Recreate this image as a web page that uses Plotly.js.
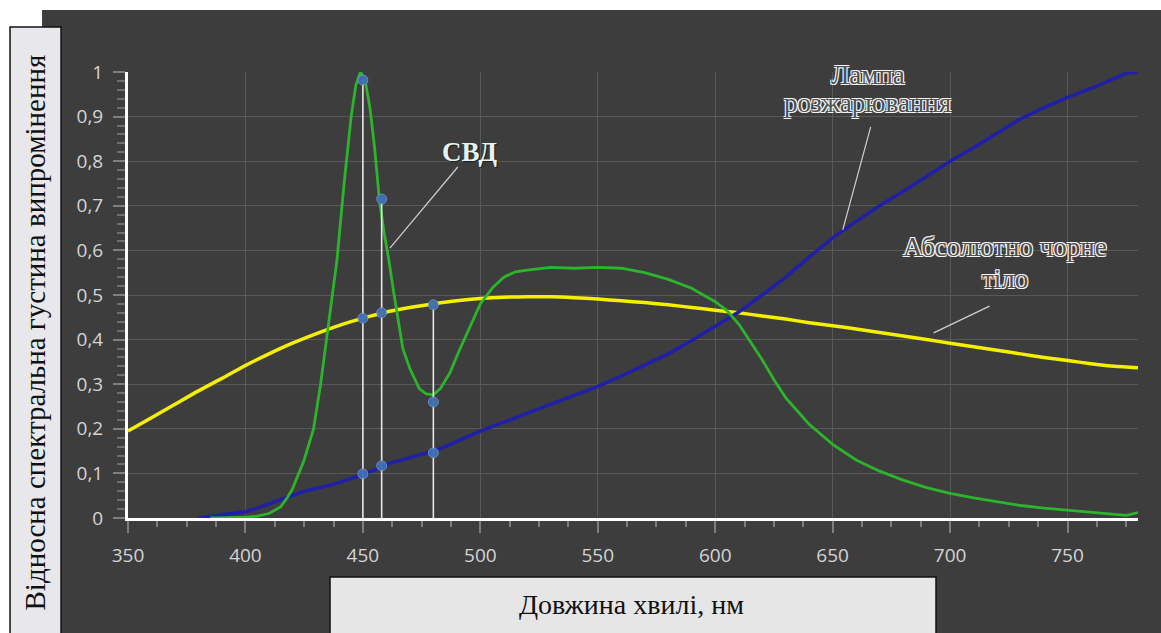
<!DOCTYPE html>
<html>
<head>
<meta charset="utf-8">
<script src="https://cdn.plot.ly/plotly-3.0.1.min.js"></script>
<style>
html,body{margin:0;padding:0;background:#ffffff;}
#chart{width:1161px;height:633px;}
</style>
</head>
<body>
<div id="chart"></div>
<script>
// Black body (yellow)
const bbNm  = [350,360,370,380,390,400,410,420,430,440,450,460,470,480,490,500,510,520,530,540,550,560,570,580,590,600,610,620,630,640,650,660,670,680,690,700,710,720,730,740,750,760,770,780];
const bbVal = [0.195,0.225,0.255,0.285,0.313,0.342,0.368,0.392,0.413,0.432,0.448,0.462,0.472,0.48,0.487,0.492,0.495,0.496,0.496,0.494,0.491,0.487,0.483,0.478,0.472,0.466,0.46,0.453,0.446,0.438,0.431,0.424,0.416,0.408,0.4,0.392,0.384,0.376,0.368,0.36,0.353,0.346,0.34,0.337];

// Incandescent lamp (blue)
const lampNm  = [380,385,390,395,400,405,410,415,420,425,430,435,440,445,450,455,460,465,470,475,480,485,490,495,500,510,520,530,540,550,560,570,580,590,600,610,620,630,640,650,660,670,680,690,700,710,720,730,740,750,760,770,775,780];
const lampVal = [0.0,0.004,0.007,0.01,0.014,0.022,0.032,0.042,0.052,0.06,0.066,0.072,0.08,0.088,0.098,0.108,0.12,0.128,0.135,0.142,0.15,0.16,0.172,0.185,0.195,0.215,0.235,0.255,0.275,0.295,0.318,0.342,0.368,0.398,0.43,0.462,0.5,0.54,0.585,0.628,0.665,0.7,0.732,0.765,0.8,0.83,0.862,0.895,0.92,0.943,0.963,0.985,0.997,1.0];

// LED (green)
const ledNm  = [385,390,400,405,410,415,418,420,425,429,432,435,439,442,445,447,449,451,453,455,457,459,461,463,465,467,470,474,477,480,483,487,491,495,500,505,510,515,520,530,540,550,560,570,580,590,600,605,610,615,620,625,630,635,640,650,660,670,680,690,700,710,720,730,740,750,760,770,775,780];
const ledVal = [0.0,0.0,0.002,0.004,0.01,0.025,0.047,0.065,0.13,0.2,0.3,0.42,0.58,0.75,0.9,0.97,1.0,0.98,0.92,0.83,0.715,0.64,0.58,0.51,0.44,0.38,0.335,0.29,0.278,0.276,0.29,0.325,0.375,0.42,0.48,0.515,0.54,0.552,0.556,0.562,0.56,0.562,0.56,0.55,0.535,0.515,0.485,0.465,0.435,0.395,0.355,0.31,0.27,0.24,0.21,0.165,0.13,0.105,0.085,0.068,0.055,0.045,0.036,0.028,0.022,0.017,0.013,0.008,0.006,0.012];

// Marked wavelengths and marked points
const markNm   = [450, 458, 480];
const markTop  = [0.982, 0.715, 0.478];
const pointNm  = [450, 450, 450, 458, 458, 458, 480, 480, 480];
const pointVal = [0.982, 0.448, 0.099, 0.715, 0.46, 0.117, 0.478, 0.26, 0.146];

// Texts
const yTitle = 'Відносна спектральна густина випромінення';
const xTitle = 'Довжина хвилі, нм';
const labelLed = 'СВД';
const labelLamp = ['Лампа', 'розжарювання'];
const labelBody = ['Абсолютно чорне', 'тіло'];

// Callout leader lines [x0,y0,x1,y1] in data units
const leaderLed  = [490.4, 0.787, 461.5, 0.605];
const leaderLamp = [666.2, 0.877, 654.3, 0.646];
const leaderBody = [716.8, 0.475, 693.0, 0.415];

const traces = [
  {x: bbNm, y: bbVal, type: 'scatter', mode: 'lines', line: {color: '#f4f000', width: 3.5, shape: 'spline', smoothing: 0.6}},
  {x: lampNm, y: lampVal, type: 'scatter', mode: 'lines', line: {color: '#1f1fa8', width: 3.5}},
  {x: ledNm, y: ledVal, type: 'scatter', mode: 'lines', line: {color: '#2cb52c', width: 2.8}}
];
markNm.forEach((nm, i) => {
  traces.push({x: [nm, nm], y: [0, markTop[i]], type: 'scatter', mode: 'lines',
    line: {color: '#e6e6e6', width: 1.6}});
});
traces.push({x: pointNm, y: pointVal, type: 'scatter', mode: 'markers', cliponaxis: false,
  marker: {size: 10, color: 'rgba(62,110,178,0.95)', line: {color: 'rgba(120,160,215,0.7)', width: 1}}});

const outline = '-1px -1px 0 #f4f4f4, 1px -1px 0 #f4f4f4, -1px 1px 0 #f4f4f4, 1px 1px 0 #f4f4f4';
const calloutFont = {family: 'Liberation Serif, Times New Roman, serif', size: 27, color: '#505050', shadow: outline};

function leader(a) {
  return {type: 'line', xref: 'x', yref: 'y', x0: a[0], y0: a[1], x1: a[2], y1: a[3],
    line: {color: '#d0d0d0', width: 1.2}};
}

const layout = {
  width: 1161, height: 633,
  margin: {l: 128, r: 23, t: 72, b: 115, pad: 0},
  paper_bgcolor: '#ffffff',
  plot_bgcolor: 'rgba(0,0,0,0)',
  separators: ',.',
  showlegend: false,
  hovermode: false,
  xaxis: {
    range: [350, 780], dtick: 50, tick0: 350,
    showgrid: true, gridcolor: '#585858', gridwidth: 1,
    zeroline: false,
    showline: true, linecolor: '#ffffff', linewidth: 3,
    ticks: 'outside', ticklen: 12, tickwidth: 2, tickcolor: '#7e7e7e',
    ticklabelstandoff: 6,
    minor: {dtick: 12.5, tick0: 350, ticks: 'outside', ticklen: 6, tickwidth: 2, tickcolor: '#7e7e7e', showgrid: false},
    tickfont: {family: 'Open Sans, sans-serif', size: 19, color: '#d4d4d4'}
  },
  yaxis: {
    range: [0, 1], dtick: 0.1, tick0: 0,
    showgrid: true, gridcolor: '#585858', gridwidth: 1,
    zeroline: false,
    showline: true, linecolor: '#ffffff', linewidth: 3,
    ticks: 'outside', ticklen: 12, tickwidth: 2, tickcolor: '#7e7e7e',
    ticklabelstandoff: 6,
    minor: {dtick: 0.02, tick0: 0, ticks: 'outside', ticklen: 8, tickwidth: 2, tickcolor: '#6e6e6e', showgrid: false},
    tickfont: {family: 'Open Sans, sans-serif', size: 19, color: '#d4d4d4'}
  },
  shapes: [
    {type: 'rect', xref: 'paper', yref: 'paper', layer: 'below', x0: -0.0851, x1: 1.05, y0: -0.35, y1: 1.139,
      fillcolor: '#3d3d3d', line: {width: 0}},
    {type: 'rect', xref: 'paper', yref: 'paper', layer: 'above', x0: -0.1168, x1: -0.0663, y0: -0.35, y1: 1.1009,
      fillcolor: '#e8e8ec', line: {color: '#111111', width: 1.5}},
    {type: 'rect', xref: 'paper', yref: 'paper', layer: 'above', x0: 0.2, x1: 0.8, y0: -0.35, y1: -0.1323,
      fillcolor: '#e6e6e6', line: {color: '#111111', width: 1.5}},
    leader(leaderLed), leader(leaderLamp), leader(leaderBody)
  ],
  annotations: [
    {xref: 'paper', yref: 'paper', x: -0.0916, y: 0.417, xanchor: 'center', yanchor: 'middle',
      text: yTitle, showarrow: false, textangle: -90,
      font: {family: 'Liberation Serif, Times New Roman, serif', size: 29, color: '#111111'}},
    {xref: 'paper', yref: 'paper', x: 0.499, y: -0.195, xanchor: 'center', yanchor: 'middle',
      text: xTitle, showarrow: false,
      font: {family: 'Liberation Serif, Times New Roman, serif', size: 28, color: '#111111'}},
    {xref: 'x', yref: 'y', x: 495.5, y: 0.821, xanchor: 'center', yanchor: 'middle', text: '<b>' + labelLed + '</b>', showarrow: false,
      font: {family: 'Liberation Serif, Times New Roman, serif', size: 27, color: '#e4f2f2', shadow: '1px 1px 1px #1a1a1a'}},
    {xref: 'x', yref: 'y', x: 664.9, y: 0.994, xanchor: 'center', yanchor: 'middle', text: labelLamp[0], showarrow: false, font: calloutFont},
    {xref: 'x', yref: 'y', x: 664.9, y: 0.931, xanchor: 'center', yanchor: 'middle', text: labelLamp[1], showarrow: false, font: calloutFont},
    {xref: 'x', yref: 'y', x: 723.2, y: 0.607, xanchor: 'center', yanchor: 'middle', text: labelBody[0], showarrow: false, font: calloutFont},
    {xref: 'x', yref: 'y', x: 723.2, y: 0.535, xanchor: 'center', yanchor: 'middle', text: labelBody[1], showarrow: false, font: calloutFont}
  ]
};

Plotly.newPlot('chart', traces, layout, {staticPlot: true, displayModeBar: false});
</script>
</body>
</html>
